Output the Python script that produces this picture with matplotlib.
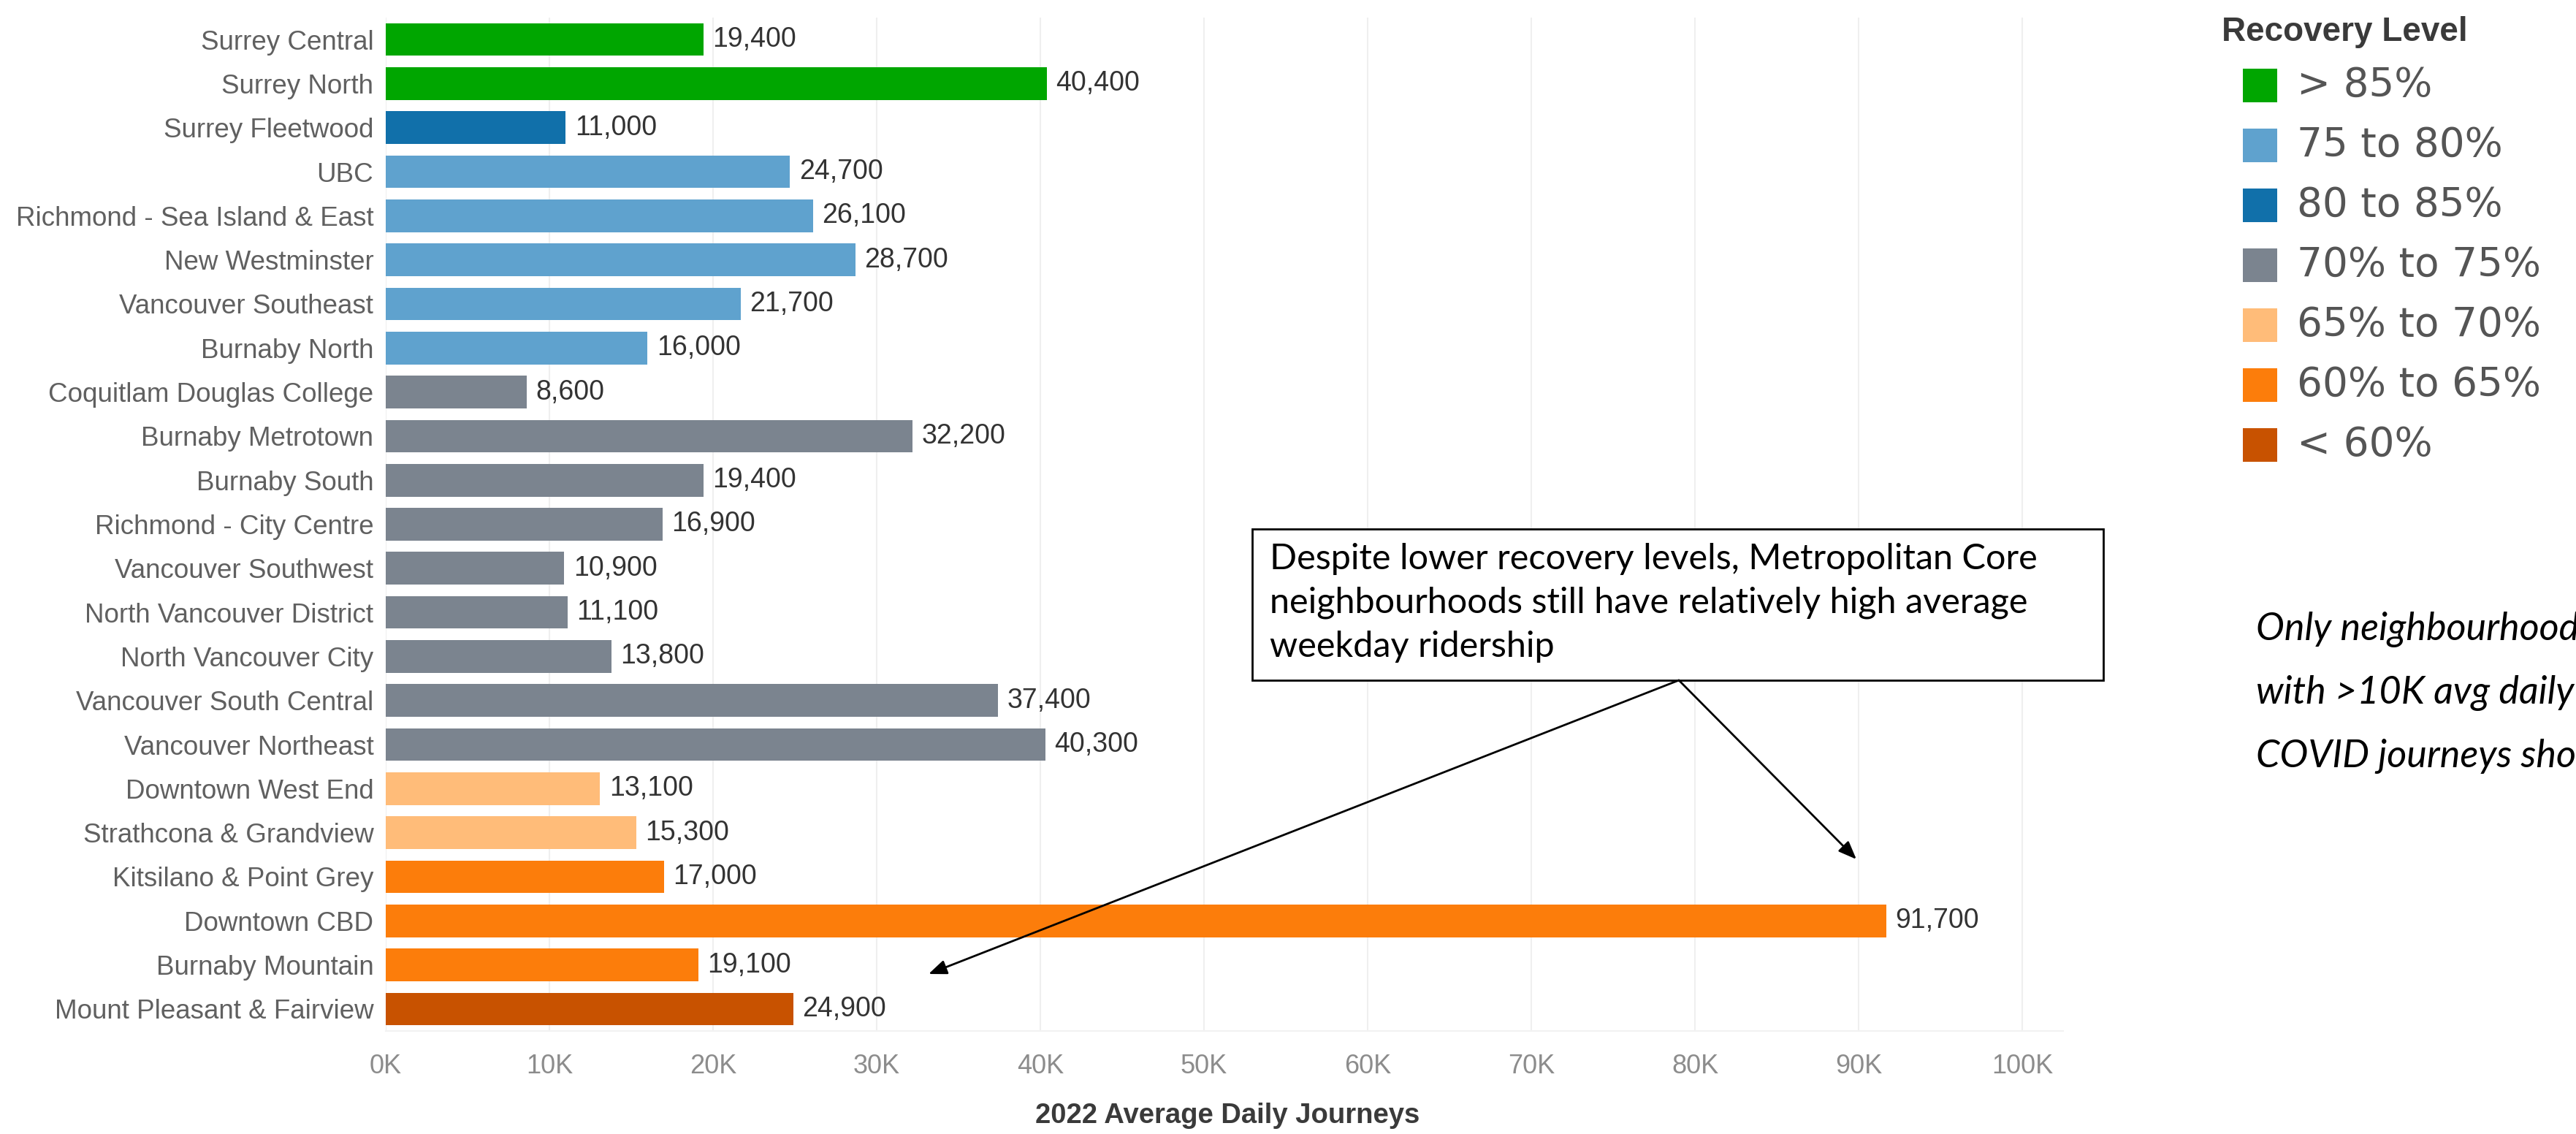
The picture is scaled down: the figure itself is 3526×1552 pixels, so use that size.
import matplotlib
matplotlib.use("Agg")
import matplotlib.pyplot as plt
from matplotlib import font_manager
from matplotlib.patches import Rectangle, FancyArrowPatch
from matplotlib.ticker import FuncFormatter

# ---------------------------------------------------------------
# Data : 2022 average daily journeys by neighbourhood
# ---------------------------------------------------------------
neighbourhoods = [
    "Surrey Central", "Surrey North", "Surrey Fleetwood", "UBC",
    "Richmond - Sea Island & East", "New Westminster", "Vancouver Southeast",
    "Burnaby North", "Coquitlam Douglas College", "Burnaby Metrotown",
    "Burnaby South", "Richmond - City Centre", "Vancouver Southwest",
    "North Vancouver District", "North Vancouver City",
    "Vancouver South Central", "Vancouver Northeast", "Downtown West End",
    "Strathcona & Grandview", "Kitsilano & Point Grey", "Downtown CBD",
    "Burnaby Mountain", "Mount Pleasant & Fairview",
]
journeys = [
    19400, 40400, 11000, 24700, 26100, 28700, 21700, 16000, 8600, 32200,
    19400, 16900, 10900, 11100, 13800, 37400, 40300, 13100, 15300, 17000,
    91700, 19100, 24900,
]
recovery = [
    "> 85%", "> 85%", "80 to 85%", "75 to 80%", "75 to 80%", "75 to 80%",
    "75 to 80%", "75 to 80%", "70% to 75%", "70% to 75%", "70% to 75%",
    "70% to 75%", "70% to 75%", "70% to 75%", "70% to 75%", "70% to 75%",
    "70% to 75%", "65% to 70%", "65% to 70%", "60% to 65%", "60% to 65%",
    "60% to 65%", "< 60%",
]

levels = ["> 85%", "75 to 80%", "80 to 85%", "70% to 75%",
          "65% to 70%", "60% to 65%", "< 60%"]
level_colours = ["#00A600", "#5FA2CE", "#1170AA", "#7B848F",
                 "#FFBC79", "#FC7D0B", "#C85200"]

x_ticks = list(range(0, 100001, 10000))

note_lines = [
    "Despite lower recovery levels, Metropolitan Core",
    "neighbourhoods still have relatively high average",
    "weekday ridership",
]
side_lines = [
    "Only neighbourhoods",
    "with >10K avg daily pre-",
    "COVID journeys shown",
]

W, H = 3526, 1552


def pick_font(*names):
    installed = {f.name for f in font_manager.fontManager.ttflist}
    for name in names:
        if name in installed:
            return name
    return "DejaVu Sans"


def fx(px):
    return px / W


def fy(py):
    return 1 - py / H


def main():
    label_font = pick_font("Liberation Sans", "Arimo")
    note_font = pick_font("Lato", "Open Sans")
    legend_font = "DejaVu Sans"

    fig = plt.figure(figsize=(W / 100, H / 100), dpi=100)
    fig.patch.set_facecolor("white")

    # plot area
    ax = fig.add_axes([fx(528), fy(1411), fx(2824) - fx(528), fy(24) - fy(1411)])
    colour_of = dict(zip(levels, level_colours))
    bar_colours = [colour_of[r] for r in recovery]
    ypos = list(range(len(neighbourhoods)))

    ax.barh(ypos, journeys, height=0.74, color=bar_colours, zorder=2)
    ax.set_ylim(len(neighbourhoods) - 0.5, -0.5)
    ax.set_xlim(0, 102500)
    ax.set_yticks(ypos)
    ax.set_yticklabels(neighbourhoods, fontfamily=label_font)
    ax.set_xticks(x_ticks)
    ax.xaxis.set_major_formatter(FuncFormatter(lambda v, p: f"{int(v / 1000)}K"))
    for lab in ax.get_xticklabels():
        lab.set_fontfamily(label_font)

    ax.tick_params(axis="y", length=0, pad=12, labelsize=26.5, labelcolor="#606060")
    ax.tick_params(axis="x", length=0, pad=22, labelsize=26, labelcolor="#8c8c8c")
    ax.grid(axis="x", color="#efefef", linewidth=1.5, zorder=0)
    ax.set_axisbelow(True)
    for side in ["top", "right", "left"]:
        ax.spines[side].set_visible(False)
    ax.spines["bottom"].set_color("#f2f2f2")
    ax.spines["bottom"].set_linewidth(1.5)

    # value labels
    for i, v in enumerate(journeys):
        ax.annotate(f"{v:,}", xy=(v, i), xytext=(9, 0), textcoords="offset points",
                    va="center", ha="left", fontsize=27, color="#333333",
                    fontfamily=label_font)

    fig.text(fx(1680), fy(1527), "2022 Average Daily Journeys", ha="center",
             va="center", fontsize=27.5, fontweight="bold", color="#3a3a3a",
             fontfamily=label_font)

    # legend
    fig.text(fx(3041), fy(44), "Recovery Level", ha="left", va="center",
             fontsize=33, fontweight="bold", color="#3a3a3a", fontfamily=label_font)
    for k, (name, col) in enumerate(zip(levels, level_colours)):
        mid = 117 + k * 82
        fig.add_artist(Rectangle((fx(3070), fy(mid + 23)), fx(47), 46 / H,
                                 transform=fig.transFigure, facecolor=col,
                                 edgecolor="none"))
        fig.text(fx(3144), fy(mid), name, ha="left", va="center",
                 fontsize=39.5, color="#555555", fontfamily=legend_font)

    # side note (runs off the right edge)
    for k, line in enumerate(side_lines):
        fig.text(fx(3088), fy(861 + k * 87), line, ha="left", va="center",
                 fontsize=37.5, style="italic", color="black", fontfamily=note_font)

    # callout box with arrows
    fig.add_artist(Rectangle((fx(1714), fy(931)), fx(2879) - fx(1714), (931 - 724) / H,
                             transform=fig.transFigure, facecolor="white",
                             edgecolor="black", linewidth=2, zorder=5))
    for k, line in enumerate(note_lines):
        fig.text(fx(1738), fy(765 + k * 60), line, ha="left", va="center",
                 fontsize=35, color="black", fontfamily=note_font, zorder=6)

    for tip in [(1271, 1333), (2541, 1176)]:
        fig.add_artist(FancyArrowPatch((fx(2298), fy(931)), (fx(tip[0]), fy(tip[1])),
                                       transform=fig.transFigure,
                                       arrowstyle="-|>,head_length=0.5,head_width=0.2",
                                       mutation_scale=30, color="black",
                                       linewidth=2, shrinkA=0, shrinkB=0, zorder=6))

    fig.savefig("out.png", dpi=100)


if __name__ == "__main__":
    main()
